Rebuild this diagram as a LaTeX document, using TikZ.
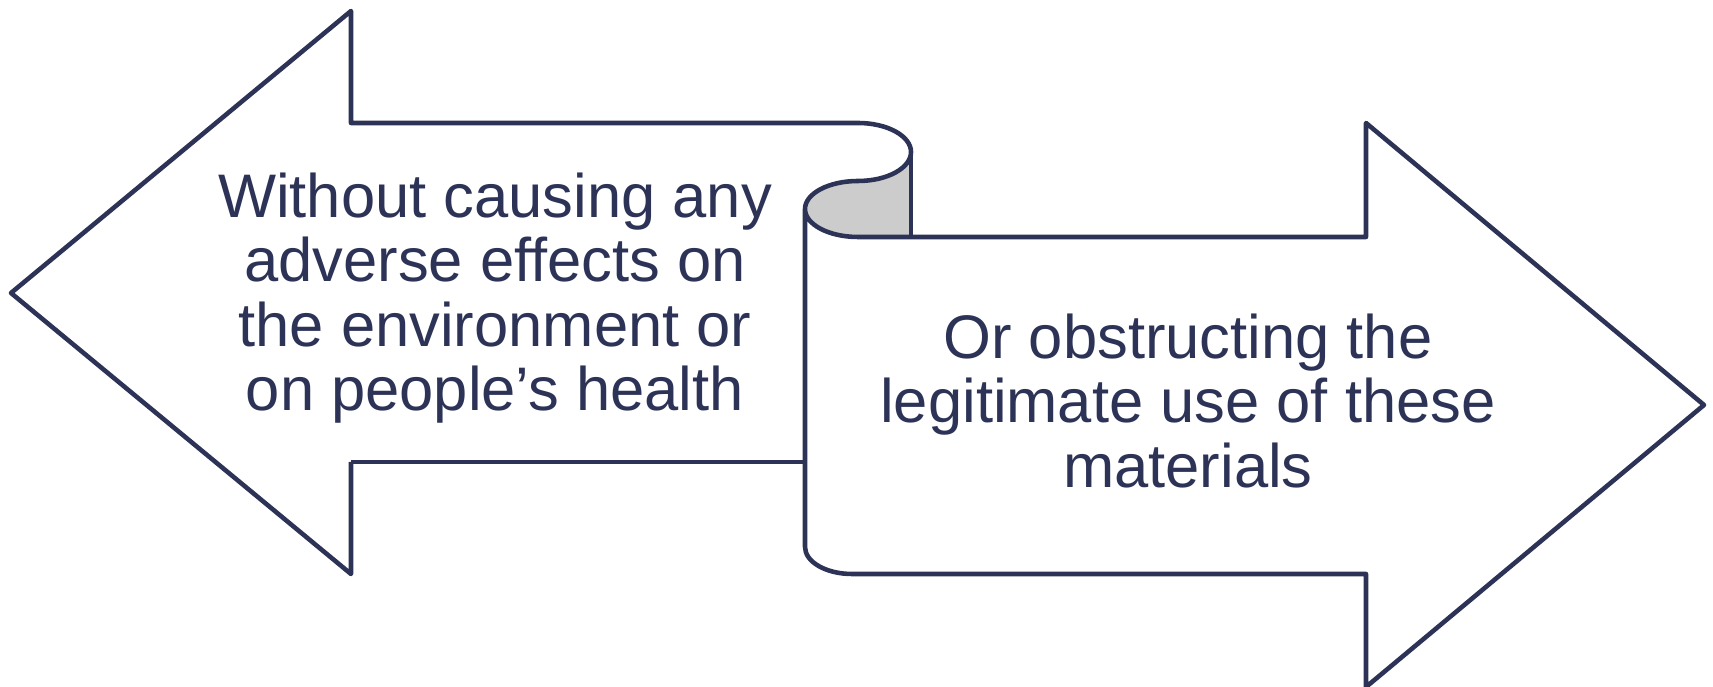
\documentclass[tikz,border=0pt]{standalone}
\usepackage{fontspec}
\setmainfont{Liberation Sans}
\usetikzlibrary{positioning}
\definecolor{navy}{RGB}{44,51,86}
\definecolor{rollgray}{RGB}{204,204,204}

\begin{document}
\begin{tikzpicture}[x=0.2mm, y=0.2mm,
    outline/.style={draw=navy, line width=2.6pt, line join=round},
    label/.style={text=navy, align=center, inner sep=0pt,
        font=\fontsize{35}{36.6}\selectfont}]
    \useasboundingbox (0,0) rectangle (1713,687);
    % rolled part of the scroll
    \fill[rollgray] (911,535) arc[start angle=0, end angle=-90, x radius=53, y radius=29]
        arc[start angle=90, end angle=270, x radius=53, y radius=28] -- (911,450) -- cycle;
    % both arrows as one outline
    \draw[outline] (351,225) -- (351,113) -- (11,394) -- (351,676) -- (351,564) -- (858,564)
        arc[start angle=90, end angle=-90, x radius=53, y radius=29]
        arc[start angle=90, end angle=270, x radius=53, y radius=28]
        -- (1366,450) -- (1366,564) -- (1704,282) -- (1366,0) -- (1366,113) -- (852,113)
        arc[start angle=270, end angle=180, x radius=47, y radius=27] -- (805,478);
    \draw[outline] (351,225) -- (805,225);
    \draw[outline] (911,535) -- (911,450);
    % texts
    \node[label] (left) at (495,389) {Without causing any\\adverse effects on\\the environment or\\on people’s health};
    \node[label] (right) at (1188,286) {Or obstructing the\\legitimate use of these\\materials};
\end{tikzpicture}
\end{document}
